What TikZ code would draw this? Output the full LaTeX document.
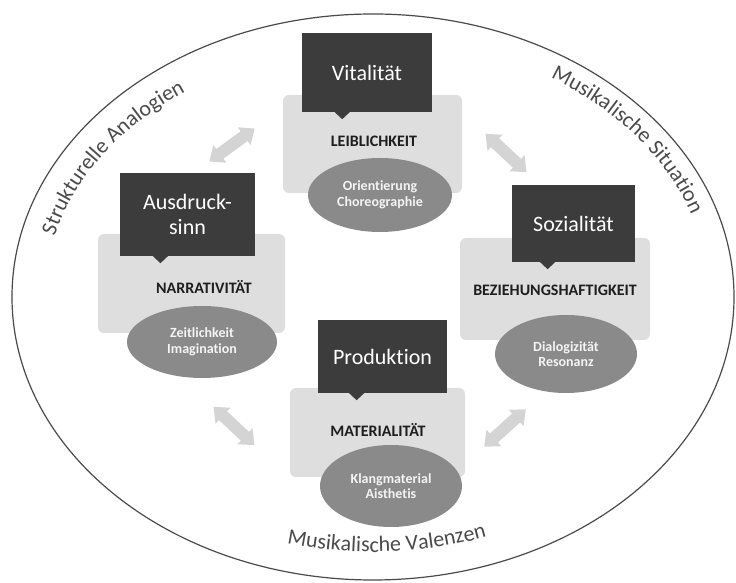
\documentclass[tikz,border=0pt]{standalone}
\usepackage{fontspec}
\setmainfont{Carlito}[Ligatures=NoCommon]
\usetikzlibrary{shapes.geometric,decorations.text,calc}
\definecolor{darkbox}{HTML}{3C3C3C}
\definecolor{lightbox}{HTML}{DEDEDE}
\definecolor{ellfill}{HTML}{8A8A8A}
\definecolor{arrowgray}{HTML}{D4D4D4}
\definecolor{outlinegray}{HTML}{4A4A4A}
\definecolor{curvegray}{HTML}{4A4A4A}
\definecolor{labeltext}{HTML}{1E1E1E}
\definecolor{elltext}{HTML}{F4F4F4}
\newcommand\curvefont{\fontsize{22}{22}\selectfont}
\begin{document}
\begin{tikzpicture}[x=1pt,y=1pt,
  titlebox/.style={fill=darkbox, text=white, inner sep=0pt, font=\fontsize{22}{25}\selectfont, align=center},
  lightrect/.style={fill=lightbox, rounded corners=6pt, inner sep=0pt},
  subell/.style={ellipse, fill=ellfill, text=elltext, inner sep=0pt, font=\bfseries\fontsize{14}{15.5}\selectfont, align=center},
  labeltxt/.style={text=labeltext, font=\bfseries\fontsize{16}{18}\selectfont, inner sep=0pt},
  dblarrow/.pic={\fill[arrowgray] (-28,0) -- (-15,11) -- (-15,6) -- (15,6) -- (15,11) -- (28,0) -- (15,-11) -- (15,-6) -- (-15,-6) -- (-15,-11) -- cycle;}]
\useasboundingbox (0,0) rectangle (736,583);
% outer ellipse
\draw[outlinegray, line width=1.2pt] (373,286) ellipse [x radius=361, y radius=283];
% curved texts
\path[decorate, decoration={text along path, text align=center,
  text={|\curvefont\color{curvegray}|Strukturelle Analogien}}]
  (45,294.7) arc[start angle=178, end angle=115, x radius=328, y radius=250];
\path[decorate, decoration={text along path, text align=center,
  text={|\curvefont\color{curvegray}|Musikalische Situation}}]
  (509.66,521.69) arc[start angle=66, end angle=9, x radius=336, y radius=258];
\path[decorate, decoration={text along path, text align=center,
  text={|\curvefont\color{curvegray}|Musikalische Valenzen}}]
  (286.8,39.69) arc[start angle=255, end angle=290, x radius=333, y radius=255];
% arrows
\pic (a1) [rotate=36] at (232,438) {dblarrow};
\pic (a2) [rotate=-43] at (506,430) {dblarrow};
\pic (a3) [rotate=-43] at (234,157) {dblarrow};
\pic (a4) [rotate=42] at (505,155) {dblarrow};
% light rectangles
\node[lightrect, minimum width=179pt, minimum height=98pt] (r1) at (372.5,439) {};
\node[lightrect, minimum width=187pt, minimum height=99pt] (r2) at (191.5,299.5) {};
\node[lightrect, minimum width=190pt, minimum height=102pt] (r3) at (555,294) {};
\node[lightrect, minimum width=175pt, minimum height=89pt] (r4) at (377.5,150.5) {};
% ellipses
\node[subell, minimum width=144pt, minimum height=74pt] (e1) at (380,388) {Orientierung\\Choreographie};
\node[subell, minimum width=150pt, minimum height=72pt] (e2) at (202,241) {Zeitlichkeit\\Imagination};
\node[subell, minimum width=142pt, minimum height=78pt] (e3) at (566,229) {Dialogizität\\Resonanz};
\node[subell, minimum width=142pt, minimum height=82pt] (e4) at (391,97) {Klangmaterial\\Aisthetis};
% dark title boxes
\node[titlebox, minimum width=130pt, minimum height=79pt] (b1) at (367,510.5) {Vitalität};
\node[titlebox, minimum width=135pt, minimum height=83pt] (b2) at (187.5,368.5) {Ausdruck-\\sinn};
\node[titlebox, minimum width=123pt, minimum height=77pt] (b3) at (573.5,359.5) {Sozialität};
\node[titlebox, minimum width=129pt, minimum height=73pt] (b4) at (382.5,226.5) {Produktion};
\foreach \b/\f in {b1/0.31,b2/0.30,b3/0.29,b4/0.30}{
  \fill[darkbox] ($(\b.south west)!\f!(\b.south east)$) +(-8,0.5) -- +(0,-7) -- +(8,0.5) -- cycle;
}
% labels
\node[labeltxt] (l1) at (374,442) {LEIBLICHKEIT};
\node[labeltxt] (l2) at (204,296) {NARRATIVITÄT};
\node[labeltxt] (l3) at (555,293) {BEZIEHUNGSHAFTIGKEIT};
\node[labeltxt] (l4) at (378,153) {MATERIALITÄT};
\end{tikzpicture}
\end{document}
